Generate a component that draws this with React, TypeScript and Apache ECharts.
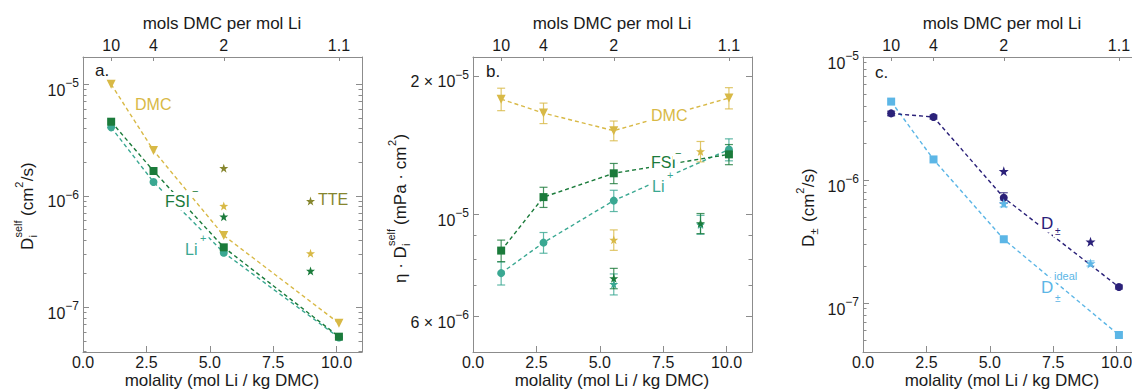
import React, { useEffect, useRef } from "react";
import * as echarts from "echarts";

const FONT = '"Liberation Sans", Arial, Helvetica, sans-serif';

// ---------- data ----------
const molality = [1.11, 2.78, 5.55, 10.09];
const molalityTTE = [5.55, 8.97];

const bottomTicks = [0, 2.5, 5, 7.5, 10];
const topTickLabels = ["10", "4", "2", "1.1"];
const topTickPositions = [1.11, 2.775, 5.55, 10.09];
const bottomTitle = "molality (mol Li / kg DMC)";
const topTitle = "mols DMC per mol Li";

// panel a: D_i^self (cm^2/s)
const aDMC = [1.0e-5, 2.55e-6, 4.4e-7, 7.2e-8];
const aFSI = [4.62e-6, 1.67e-6, 3.45e-7, 5.45e-8];
const aLi = [4.11e-6, 1.33e-6, 3.09e-7, 5.35e-8];
const aTTE_TTE = [1.77e-6, 8.97e-7];
const aTTE_DMC = [8.1e-7, 3.05e-7];
const aTTE_FSI = [6.5e-7, 2.12e-7];

// panel b: eta * D_i^self
const bDMC = [1.78e-5, 1.66e-5, 1.52e-5, 1.79e-5];
const bDMCerr = [0.1e-5, 0.085e-5, 0.075e-5, 0.095e-5];
const bFSI = [8.34e-6, 1.09e-5, 1.228e-5, 1.35e-5];
const bFSIerr = [0.45e-6, 0.55e-6, 0.62e-6, 0.68e-6];
const bLi = [7.45e-6, 8.68e-6, 1.071e-5, 1.383e-5];
const bLiErr = [0.43e-6, 0.45e-6, 0.57e-6, 0.76e-6];
const bTTE_DMC = [8.8e-6, 1.37e-5];
const bTTE_DMCerr = [0.45e-6, 0.7e-6];
const bTTE_FSI = [7.26e-6, 9.56e-6];
const bTTE_FSIerr = [0.37e-6, 0.48e-6];
const bTTE_Li = [7.05e-6, 9.5e-6];
const bTTE_LiErr = [0.37e-6, 0.45e-6];

// panel c: D_± (cm^2/s)
const cDpm = [3.48e-6, 3.25e-6, 7.18e-7, 1.35e-7];
const cDpmErr = [0.15e-6, 0.12e-6, 0.07e-6, 0.005e-6];
const cIdeal = [4.34e-6, 1.47e-6, 3.3e-7, 5.5e-8];
const cTTE_Dpm = [1.18e-6, 3.15e-7];
const cTTE_Ideal = [6.45e-7, 2.1e-7];
const cTTE_IdealErr = [0.04e-6, 0.01e-6];

// y tick values
const aMajor = [1e-7, 1e-6, 1e-5];
const aLabels = ["{b|10}{s|−7}", "{b|10}{s|−6}", "{b|10}{s|−5}"];
const bMajor = [6e-6, 1e-5, 2e-5];
const bLabels = ["{b|6 × 10}{s|−6}", "{b|10}{s|−5}", "{b|2 × 10}{s|−5}"];
const bMinor = [7e-6, 8e-6, 9e-6];
const cMajor = [1e-7, 1e-6, 1e-5];
const cLabels = ["{b|10}{s|−7}", "{b|10}{s|−6}", "{b|10}{s|−5}"];

// ---------- styling ----------
const C_DMC = "#D8B946";
const C_FSI = "#1B7B3B";
const C_LI = "#3AA892";
const C_TTE = "#86862E";
const C_DPM = "#2B2179";
const C_IDEAL = "#5CB6E6";
const AXIS = "#8c8c8c";
const TXT = "#1a1a1a";
const STAR =
  "path://M0,-10L2.35,-3.24L9.51,-3.09L3.8,1.24L5.88,8.09L0,4L-5.88,8.09L-3.8,1.24L-9.51,-3.09L-2.35,-3.24Z";

const GRID_LEFT = [83, 473, 863];
const GRID_TOP = 57;
const GRID_W = 279;
const GRID_H = 295;
const Y_RANGE = [
  [-7.401, -4.755],
  [-5.2993, -4.658],
  [-7.398, -5.0],
];

const lg = (v: number) => Math.log10(v);

function minorLog(lo: number, hi: number) {
  const out: number[] = [];
  for (let e = -9; e <= -3; e++)
    for (let k = 2; k <= 9; k++) {
      const v = Math.log10(k) + e;
      if (v > lo + 1e-4 && v < hi - 1e-4) out.push(v);
    }
  return out;
}

function nearestLabel(v: number, vals: number[], labels: string[]) {
  let best = 0;
  for (let i = 1; i < vals.length; i++)
    if (Math.abs(vals[i] - v) < Math.abs(vals[best] - v)) best = i;
  return labels[best];
}

const yRich = {
  b: { fontSize: 16, fontFamily: FONT, color: TXT, padding: [12, 0, 0, 0] },
  s: { fontSize: 12, fontFamily: FONT, color: TXT, padding: [0, 0, 2, 0] },
};

function buildAxes() {
  const xAxis: any[] = [];
  const yAxis: any[] = [];
  const majors = [aMajor, bMajor, cMajor].map((a) => a.map(lg));
  const labels = [aLabels, bLabels, cLabels];
  const minors = [
    minorLog(Y_RANGE[0][0], Y_RANGE[0][1]),
    bMinor.map(lg),
    minorLog(Y_RANGE[2][0], Y_RANGE[2][1]),
  ];
  for (let g = 0; g < 3; g++) {
    xAxis.push({
      type: "value",
      gridIndex: g,
      position: "bottom",
      min: 0,
      max: 11,
      axisLine: { show: true, onZero: false, lineStyle: { color: AXIS, width: 1 } },
      axisTick: { show: true, inside: true, length: 6, customValues: bottomTicks, lineStyle: { color: AXIS } },
      axisLabel: {
        customValues: bottomTicks,
        formatter: (v: number) => v.toFixed(1),
        fontSize: 16,
        color: TXT,
        fontFamily: FONT,
        margin: 2,
      },
      splitLine: { show: false },
    });
    xAxis.push({
      type: "value",
      gridIndex: g,
      position: "top",
      min: 0,
      max: 11,
      axisLine: { show: true, onZero: false, lineStyle: { color: AXIS, width: 1 } },
      axisTick: { show: true, inside: true, length: 4, customValues: topTickPositions, lineStyle: { color: AXIS } },
      axisLabel: {
        customValues: topTickPositions,
        formatter: (v: number) => nearestLabel(v, topTickPositions, topTickLabels),
        fontSize: 16,
        color: TXT,
        fontFamily: FONT,
        margin: 4,
      },
      splitLine: { show: false },
    });
    const [mn, mx] = Y_RANGE[g];
    const common = { type: "value", gridIndex: g, min: mn, max: mx, splitLine: { show: false } };
    yAxis.push({
      ...common,
      position: "left",
      axisLine: { show: true, onZero: false, lineStyle: { color: AXIS, width: 1 } },
      axisTick: { show: true, inside: true, length: 6, customValues: majors[g], lineStyle: { color: AXIS } },
      axisLabel: {
        customValues: majors[g],
        formatter: (v: number) => nearestLabel(v, majors[g], labels[g]),
        rich: yRich,
        margin: 4,
      },
    });
    yAxis.push({
      ...common,
      position: "left",
      axisLine: { show: false, onZero: false },
      axisTick: { show: true, inside: true, length: 3.5, customValues: minors[g], lineStyle: { color: AXIS } },
      axisLabel: { show: false },
    });
    yAxis.push({
      ...common,
      position: "right",
      axisLine: { show: true, onZero: false, lineStyle: { color: AXIS, width: 1 } },
      axisTick: { show: true, inside: true, length: 6, customValues: majors[g], lineStyle: { color: AXIS } },
      axisLabel: { show: false },
    });
    yAxis.push({
      ...common,
      position: "right",
      axisLine: { show: false, onZero: false },
      axisTick: { show: true, inside: true, length: 3.5, customValues: minors[g], lineStyle: { color: AXIS } },
      axisLabel: { show: false },
    });
  }
  return { xAxis, yAxis };
}

const pts = (xs: number[], ys: number[]) => xs.map((x, i) => [x, lg(ys[i])]);

function lineSeries(g: number, xs: number[], ys: number[], color: string, symbol: string, size: number, rotate = 0) {
  return {
    type: "line",
    xAxisIndex: 2 * g,
    yAxisIndex: 4 * g,
    data: pts(xs, ys),
    symbol,
    symbolSize: size,
    symbolRotate: rotate,
    showSymbol: true,
    itemStyle: { color, opacity: 1 },
    lineStyle: { color, width: 1.4, type: [4, 3] },
    silent: true,
    z: 3,
  };
}

function starSeries(g: number, xs: number[], ys: number[], color: string, size = 9) {
  return {
    type: "scatter",
    xAxisIndex: 2 * g,
    yAxisIndex: 4 * g,
    data: pts(xs, ys),
    symbol: STAR,
    symbolSize: size,
    itemStyle: { color, opacity: 1 },
    silent: true,
    z: 4,
  };
}

function errSeries(g: number, xs: number[], ys: number[], es: number[], color: string) {
  return {
    type: "custom",
    xAxisIndex: 2 * g,
    yAxisIndex: 4 * g,
    data: xs.map((x, i) => [x, lg(ys[i] - es[i]), lg(ys[i] + es[i])]),
    encode: { x: 0, y: [1, 2] },
    silent: true,
    z: 2,
    renderItem: (_p: any, api: any) => {
      const x = api.value(0);
      const a = api.coord([x, api.value(1)]);
      const b = api.coord([x, api.value(2)]);
      const w = 4;
      const style = { stroke: color, lineWidth: 1.2, opacity: 0.8 };
      return {
        type: "group",
        children: [
          { type: "line", shape: { x1: a[0], y1: a[1], x2: b[0], y2: b[1] }, style },
          { type: "line", shape: { x1: a[0] - w, y1: a[1], x2: a[0] + w, y2: a[1] }, style },
          { type: "line", shape: { x1: b[0] - w, y1: b[1], x2: b[0] + w, y2: b[1] }, style },
        ],
      };
    },
  };
}

function txt(text: string, x: number, y: number, color: string, size: number, bg = true, extra: any = {}) {
  return {
    type: "text",
    x,
    y,
    z: 100,
    silent: true,
    style: {
      text,
      fill: color,
      fontSize: size,
      fontFamily: FONT,
      align: "left",
      verticalAlign: "middle",
      textAlign: "left",
      textVerticalAlign: "middle",
      backgroundColor: bg ? "#ffffff" : undefined,
      padding: bg ? [1, 2] : 0,
      ...extra,
    },
  };
}

function centered(text: string, x: number, y: number) {
  return txt(text, x, y, TXT, 17, false, { align: "center", textAlign: "center" });
}

function rotName(x: number, y: number, parts: [string, number, number, number][]) {
  return {
    type: "group",
    x,
    y,
    rotation: Math.PI / 2,
    z: 100,
    silent: true,
    children: parts.map(([t, lx, ly, size]) => ({
      type: "text",
      x: lx,
      y: ly,
      style: {
        text: t,
        fill: TXT,
        fontSize: size,
        fontFamily: FONT,
        align: "left",
        verticalAlign: "middle",
        textAlign: "left",
        textVerticalAlign: "middle",
      },
    })),
  };
}

function buildOption() {
  const { xAxis, yAxis } = buildAxes();
  const series: any[] = [
    // panel a
    lineSeries(0, molality, aLi, C_LI, "circle", 8),
    lineSeries(0, molality, aFSI, C_FSI, "rect", 8),
    lineSeries(0, molality, aDMC, C_DMC, "triangle", 9, 180),
    starSeries(0, molalityTTE, aTTE_DMC, C_DMC),
    starSeries(0, molalityTTE, aTTE_FSI, C_FSI),
    starSeries(0, molalityTTE, aTTE_TTE, C_TTE),
    // panel b
    errSeries(1, molality, bLi, bLiErr, C_LI),
    errSeries(1, molality, bFSI, bFSIerr, C_FSI),
    errSeries(1, molality, bDMC, bDMCerr, C_DMC),
    errSeries(1, molalityTTE, bTTE_Li, bTTE_LiErr, C_LI),
    errSeries(1, molalityTTE, bTTE_FSI, bTTE_FSIerr, C_FSI),
    errSeries(1, molalityTTE, bTTE_DMC, bTTE_DMCerr, C_DMC),
    lineSeries(1, molality, bLi, C_LI, "circle", 8),
    lineSeries(1, molality, bFSI, C_FSI, "rect", 8),
    lineSeries(1, molality, bDMC, C_DMC, "triangle", 9, 180),
    starSeries(1, molalityTTE, bTTE_Li, C_LI),
    starSeries(1, molalityTTE, bTTE_FSI, C_FSI),
    starSeries(1, molalityTTE, bTTE_DMC, C_DMC),
    // panel c
    errSeries(2, molality, cDpm, cDpmErr, C_DPM),
    errSeries(2, molalityTTE, cTTE_Ideal, cTTE_IdealErr, C_IDEAL),
    lineSeries(2, molality, cIdeal, C_IDEAL, "rect", 8),
    lineSeries(2, molality, cDpm, C_DPM, "circle", 8),
    starSeries(2, molalityTTE, cTTE_Dpm, C_DPM, 10),
    starSeries(2, molalityTTE, cTTE_Ideal, C_IDEAL, 10),
  ];

  const graphic: any[] = [
    // axis titles
    ...GRID_LEFT.map((l) => centered(bottomTitle, l + 139, 380)),
    ...GRID_LEFT.map((l) => centered(topTitle, l + 139, 23)),
    // panel labels
    txt("a.", 95, 70, TXT, 17, false),
    txt("b.", 486, 71, TXT, 17, false),
    txt("c.", 875, 72, TXT, 17, false),
    // panel a annotations
    txt("DMC", 133, 104, C_DMC, 16),
    txt("FSI", 163, 201, C_FSI, 16),
    txt("−", 190, 191, C_FSI, 11),
    txt("Li", 183, 249, C_LI, 16),
    txt("+", 198, 238, C_LI, 11),
    txt("TTE", 316, 199, C_TTE, 16),
    // panel b annotations
    txt("DMC", 649, 115, C_DMC, 16),
    txt("FSI", 649, 162, C_FSI, 16),
    txt("−", 673, 153, C_FSI, 11),
    txt("Li", 650, 186, C_LI, 16),
    txt("+", 665, 175, C_LI, 11),
    // panel c annotations
    txt("D", 1039, 223, C_DPM, 17),
    txt("±", 1053, 231, C_DPM, 10),
    txt("D", 1039, 287, C_IDEAL, 17),
    txt("ideal", 1052, 276, C_IDEAL, 11),
    txt("±", 1053, 298, C_IDEAL, 10),
    // y axis names
    rotName(27, 250, [
      ["D", 0, 0, 17],
      ["self", 12.5, -9, 11],
      ["i", 12.5, 6, 11],
      ["(cm", 34, 0, 17],
      ["2", 62.3, -8, 11],
      ["/s)", 68.8, 0, 17],
    ]),
    rotName(400, 283, [
      ["η · D", 0, 0, 17],
      ["self", 37, -9, 11],
      ["i", 37, 6, 11],
      ["(mPa · cm", 58, 0, 17],
      ["2", 137, -8, 11],
      [")", 143.5, 0, 17],
    ]),
    rotName(808, 247, [
      ["D", 0, 0, 17],
      ["±", 12.5, 6, 11],
      ["(cm", 25, 0, 17],
      ["2", 53.3, -8, 11],
      ["/s)", 59.8, 0, 17],
    ]),
  ];

  return {
    animation: false,
    backgroundColor: "#ffffff",
    grid: GRID_LEFT.map((l) => ({
      left: l,
      top: GRID_TOP,
      width: GRID_W,
      height: GRID_H,
      containLabel: false,
      outerBoundsMode: "none",
    })),
    xAxis,
    yAxis,
    series,
    graphic,
  };
}

export default function App() {
  const ref = useRef<HTMLDivElement>(null);
  useEffect(() => {
    if (!ref.current) return;
    const chart = echarts.init(ref.current, null, { renderer: "svg" });
    chart.setOption(buildOption() as any);
    return () => chart.dispose();
  }, []);
  return (
    <div
      ref={ref}
      style={{ position: "absolute", left: 0, top: 0, width: 1132, height: 391, background: "#fff" }}
    />
  );
}
